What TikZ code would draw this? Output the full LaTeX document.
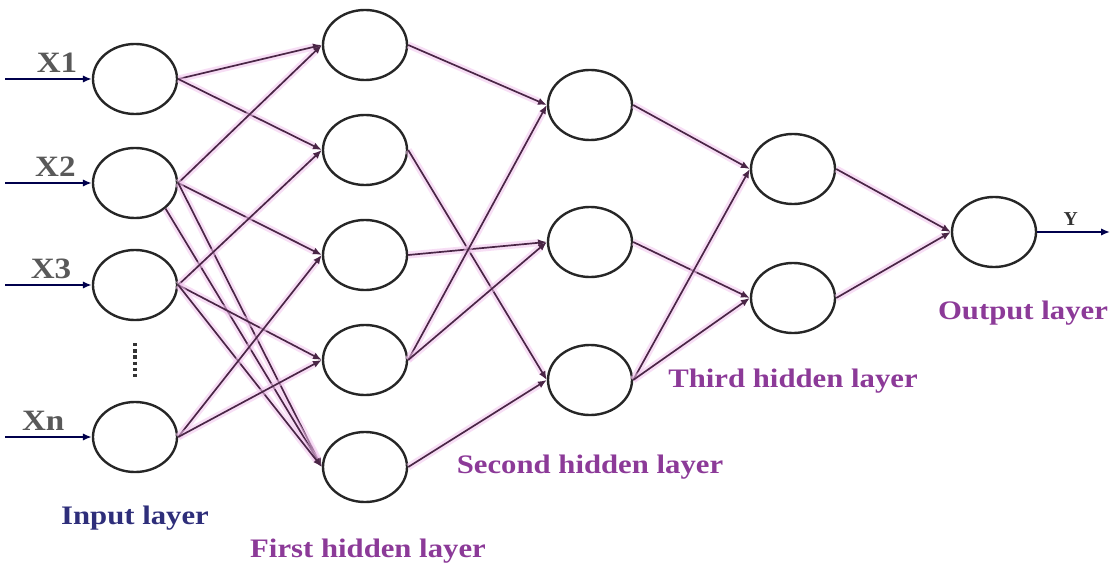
\documentclass[tikz,border=0pt]{standalone}
\usepackage{fontspec}
\setmainfont{Liberation Serif}
\usetikzlibrary{arrows.meta, shapes.geometric}
\definecolor{wire}{HTML}{4A2646}
\definecolor{glow}{HTML}{F2C4EE}
\definecolor{lbl}{HTML}{8C3A98}
\definecolor{navy}{HTML}{2E2E7A}
\tikzset{
  neuron/.style = {draw=black!85, ellipse, line width=1.7pt, minimum width=2.1cm,
                   minimum height=1.75cm, inner sep=0pt},
  link/.style   = {draw=wire, line width=1.2pt, -{Latex[length=2.2mm, width=1.8mm]},
                   preaction={draw=glow, line width=5pt, opacity=0.55}},   % pink halo
  feed/.style   = {draw=black!70!blue, line width=1.2pt, -{Latex[length=2.2mm, width=1.8mm]}},
  xlab/.style   = {font=\fontsize{21}{23}\selectfont\bfseries, text=black!65, inner sep=4pt, xscale=1.12},
  layer/.style  = {font=\fontsize{19}{22}\selectfont\bfseries, text=lbl, xscale=1.15},
}

\begin{document}
\begin{tikzpicture}[x=0.025cm, y=-0.025cm]
  \fill[white] (0,0) rectangle (1110,571);
  \useasboundingbox (0,0) rectangle (1110,571);

  % input layer
  \node[neuron] at (135, 79)  (i1) {};
  \node[neuron] at (135,183)  (i2) {};
  \node[neuron] at (135,285)  (i3) {};
  \node[neuron] at (135,437)  (xn) {};

  % first hidden layer
  \node[neuron] at (365, 45)  (h1a) {};
  \node[neuron] at (365,150)  (h1b) {};
  \node[neuron] at (365,255)  (h1c) {};
  \node[neuron] at (365,360)  (h1d) {};
  \node[neuron] at (365,467)  (h1e) {};

  % second hidden layer
  \node[neuron] at (590,105)  (h2a) {};
  \node[neuron] at (590,242)  (h2b) {};
  \node[neuron] at (590,380)  (h2c) {};

  % third hidden layer
  \node[neuron] at (793,169)  (h3a) {};
  \node[neuron] at (793,298)  (h3b) {};

  \node[neuron] at (994,232)  (out) {};

  \coordinate (x1) at (5, 79);
  \coordinate (x2) at (5,183);
  \coordinate (x3) at (5,285);
  \coordinate (x4) at (5,437);
  \coordinate (y)  at (1110,232);
  \coordinate (dtop) at (135,343);
  \coordinate (dbot) at (135,380);

  \draw[feed] (x1) -- node[xlab, above, pos=0.6]  {X1} (i1.west);
  \draw[feed] (x2) -- node[xlab, above, pos=0.58] {X2} (i2.west);
  \draw[feed] (x3) -- node[xlab, above, pos=0.53] {X3} (i3.west);
  \draw[feed] (x4) -- node[xlab, above, pos=0.44] {Xn} (xn.west);
  \draw[black!80, line width=2.4pt, dotted] (dtop) -- (dbot);

  \draw[link] (i1.east) -- (h1a.west);
  \draw[link] (i1.east) -- (h1b.west);
  \draw[link] (i2.east) -- (h1a.west);
  \draw[link] (i2.east) -- (h1c.west);
  \draw[link] (i2.east) -- (h1e.west);
  \draw[link] (i2.south east) -- (h1e.west);
  \draw[link] (i3.east) -- (h1b.west);
  \draw[link] (i3.east) -- (h1d.west);
  \draw[link] (i3.east) -- (h1e.west);
  \draw[link] (xn.east) -- (h1c.west);
  \draw[link] (xn.east) -- (h1d.west);

  \draw[link] (h1a.east) -- (h2a.west);
  \draw[link] (h1b.east) -- (h2c.west);
  \draw[link] (h1c.east) -- (h2b.west);
  \draw[link] (h1d.east) -- (h2a.west);
  \draw[link] (h1d.east) -- (h2b.west);
  \draw[link] (h1e.east) -- (h2c.west);

  \draw[link] (h2a.east) -- (h3a.west);
  \draw[link] (h2b.east) -- (h3b.west);
  \draw[link] (h2c.east) -- (h3a.west);
  \draw[link] (h2c.east) -- (h3b.west);

  \draw[link] (h3a.east) -- (out.west);
  \draw[link] (h3b.east) -- (out.west);
  \draw[feed] (out.east) -- node[above, pos=0.46, inner sep=4pt, font=\fontsize{14}{16}\selectfont\bfseries, text=black!80] {Y} (y);

  \node[layer, text=navy] at (135,518) (lin)  {Input layer};
  \node[layer] at (368,551) (lh1)  {First hidden layer};
  \node[layer] at (590,467) (lh2)  {Second hidden layer};
  \node[layer] at (793,381) (lh3)  {Third hidden layer};
  \node[layer] at (1023,313) (lout) {Output layer};
\end{tikzpicture}
\end{document}
